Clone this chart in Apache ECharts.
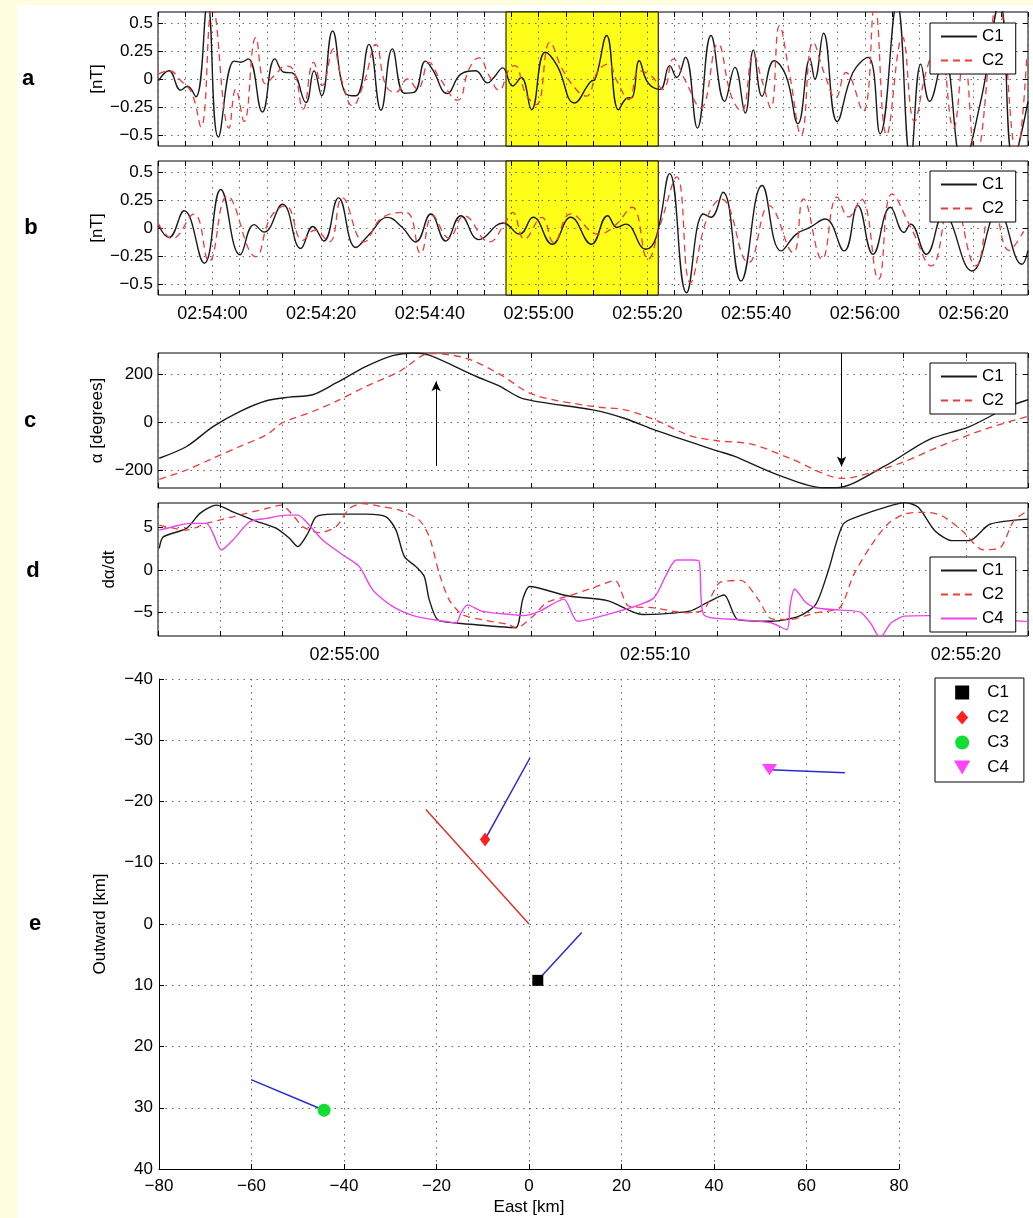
<!DOCTYPE html>
<html><head><meta charset="utf-8">
<script src="https://cdn.jsdelivr.net/npm/echarts@6/dist/echarts.min.js"></script>
<style>html,body{margin:0;padding:0;background:#fff}#c{width:1033px;height:1218px}</style>
</head><body><div id="c"></div>
<script>
// ---------- DATA ----------
// Panels a, b: time in seconds after 02:54:00, values in nT
const aC1 = [[-9.9,-0.015],[-8.0,0.074],[-5.8,-0.10],[-4.6,-0.065],[-3.05,-0.16],[-0.9,0.68],[1.1,-0.52],[4.0,0.16],[5.2,0.15],[6.6,0.18],[9.2,-0.295],[11.5,0.18],[13.2,0.06],[14.7,0.055],[17.2,-0.21],[18.7,0.074],[20.1,-0.15],[22.1,0.43],[24.5,-0.13],[26.4,-0.15],[28.8,0.31],[31.0,-0.28],[33.1,0.27],[35.3,-0.127],[37.1,-0.12],[39.2,0.16],[40.5,0.083],[43.2,-0.13],[45.7,0.044],[48.4,0.074],[50.6,-0.035],[51.8,0.015],[53.4,0.10],[55.2,-0.063],[56.8,0.013],[58.7,-0.275],[61.2,0.24],[63.4,0.12],[66.6,-0.215],[69.7,-0.018],[70.3,-0.01],[72.5,0.39],[74.7,-0.275],[76.3,-0.17],[77.2,-0.165],[78.5,0.164],[80.1,-0.033],[82.3,-0.093],[84.1,0.12],[85.4,0.013],[87.0,0.195],[89.2,-0.44],[91.7,0.39],[94.2,-0.2],[96.1,0.104],[98.0,-0.305],[99.5,0.26],[101.1,-0.154],[103.3,0.164],[105.5,0.028],[107.7,-0.4],[109.9,0.18],[110.8,0.0],[112.4,0.41],[114.9,-0.38],[117.8,0.058],[120.6,0.194],[122.8,-0.49],[125.9,0.68],[128.4,-0.72],[130.3,0.133],[131.9,-0.2],[134.5,0.2],[138.0,-0.75],[141.3,-0.2],[144.8,0.68],[147.3,-0.72],[150,-0.2]];
const aC2 = [[-9.93,0.044],[-7.96,0.074],[-5.8,-0.015],[-3.8,-0.124],[-2.1,-0.43],[0,0.66],[3.07,-0.44],[4.3,-0.09],[5.83,-0.38],[7.98,0.37],[9.8,-0.044],[11.66,0.044],[13.5,0.118],[15.0,0.074],[16.7,-0.27],[18.6,0.148],[20.2,-0.06],[22.25,0.27],[23.9,-0.03],[25.75,-0.24],[27.9,-0.03],[30.05,0.31],[31.9,-0.06],[33.7,-0.12],[35.9,0.0],[37.7,-0.09],[39.9,0.148],[41.7,0.015],[45.1,-0.19],[47.2,0.089],[49.0,0.19],[50.9,0.03],[52.7,-0.1],[54.6,0.089],[55.6,0.12],[57.7,-0.14],[59.6,-0.23],[62.1,0.33],[64.35,0.089],[67.2,-0.11],[68.75,-0.154],[70.95,0.073],[72.8,0.134],[74.4,-0.018],[76.6,-0.184],[78.5,0.073],[80.7,0.028],[82.9,-0.093],[84.8,0.18],[87.0,-0.018],[89.8,-0.26],[92.95,0.315],[95.45,-0.154],[97.3,-0.29],[99.5,0.22],[101.1,-0.018],[102.7,-0.26],[104.3,0.48],[106.1,0.058],[108.3,-0.5],[110.5,0.33],[112.7,0.028],[114.6,-0.17],[116.5,0.058],[119.65,-0.29],[121.8,0.66],[124.0,-0.5],[126.9,0.376],[129.1,-0.38],[131.3,0.073],[133.5,0.35],[136.3,-0.44],[138.2,0.2],[140.4,-0.7],[144.5,0.7],[147.9,-0.66],[149.8,0.22]];
const bC1 = [[-9.9,0.022],[-8.0,-0.086],[-5.2,0.154],[-1.5,-0.315],[1.54,0.345],[5.1,-0.24],[7.67,0.03],[9.5,-0.037],[12.9,0.213],[16.25,-0.183],[18.5,0.013],[20.5,-0.116],[23.2,0.27],[26.4,-0.174],[28.8,-0.06],[32.2,0.095],[34.9,0.007],[37.4,-0.125],[40.2,0.125],[42.9,-0.116],[45.7,0.11],[49.0,-0.104],[53.5,0.045],[56.5,-0.055],[59.0,0.096],[62.5,-0.145],[65.9,0.096],[69.7,-0.145],[72.7,0.11],[74.4,0.005],[76.0,0.035],[79.7,-0.19],[81.6,-0.085],[84.1,0.487],[87.2,-0.58],[90.3,0.126],[91.7,0.096],[93.9,0.32],[97.2,-0.475],[101.1,0.38],[104.6,-0.205],[107.4,-0.055],[109.9,0.005],[112.7,0.08],[116.2,-0.205],[118.7,0.2],[121.5,-0.235],[124.7,0.186],[127.2,-0.04],[128.4,0.035],[131.3,-0.235],[134.5,0.12],[139.7,-0.385],[144.5,0.15],[148.9,-0.325],[150,-0.2]];
const bC2 = [[-9.9,0.037],[-7.4,-0.095],[-3.4,0.125],[-0.6,-0.3],[2.76,0.286],[7.98,-0.257],[10.7,0.095],[13.5,0.198],[16.6,-0.11],[18.8,-0.02],[21.5,-0.125],[23.9,0.27],[27.9,-0.125],[31.3,0.095],[35.6,0.14],[38.3,-0.227],[40.5,0.11],[43.5,-0.09],[46.3,0.11],[50.9,-0.125],[54.0,0.06],[55.2,0.14],[57.4,-0.1],[60.6,0.096],[62.8,-0.13],[65.9,0.126],[71.0,-0.055],[74.0,0.02],[77.2,0.186],[80.1,-0.28],[82.5,0.05],[85.4,0.457],[87.9,-0.49],[91.05,0.1],[93.6,0.26],[98.6,-0.31],[102.4,0.2],[106.8,-0.22],[108.7,0.26],[112.1,-0.28],[114.9,0.276],[117.0,0.1],[119.3,0.26],[122.5,-0.46],[125.0,0.306],[128.5,0.0],[132.2,-0.34],[136.0,0.3],[140.4,-0.34],[143.5,0.25],[146.5,-0.2],[149.2,-0.03]];
// highlighted interval (seconds after 02:54:00)
const highlight = [54, 82];

// Panels c, d: time in seconds after 02:55:00
const cC1 = [[-5.96,-149],[-5.08,-100],[-4.23,-17],[-3.37,46],[-2.51,91],[-1.77,106],[-1.02,116],[-0.27,165],[0.7,234],[1.55,279],[2.2,290],[2.73,281],[4.23,193],[4.98,153],[5.74,100],[7.99,53],[9.03,17],[10.02,-33],[12.0,-118],[12.54,-140],[13.97,-219],[15.4,-272],[15.83,-272],[17.37,-183],[18.8,-72],[20.1,-18],[21.4,67],[22,95]];
const cC2 = [[-5.96,-237],[-5.08,-198],[-4.23,-149],[-3.37,-100],[-2.51,-51],[-1.98,0],[-1.02,46],[-0.27,88],[0.7,151],[1.77,213],[2.75,288],[3.9,269],[4.98,203],[6.07,117],[7.99,67],[9.03,53],[10.02,10],[11.1,-54],[12.0,-76],[13.1,-90],[14.3,-147],[16.05,-233],[16.5,-225],[17.9,-169],[19.2,-97],[20.65,-26],[22,26]];
// arrows: [time, from, to]
const arrowsC = [[2.95,-181,172],[16.0,290,-183]];

const dC1 = [[-5.96,2.55],[-5.83,3.9],[-5.08,4.9],[-4.65,6.67],[-4.12,7.65],[-3.59,6.86],[-2.94,5.88],[-2.19,4.9],[-1.77,3.73],[-1.5,2.75],[-1.18,4.3],[-0.91,6.27],[-0.37,6.59],[0.7,6.59],[1.34,6.27],[1.66,4.7],[1.93,1.57],[2.3,0.39],[2.57,-0.78],[2.73,-3.53],[3.0,-5.88],[3.59,-6.27],[4.23,-6.47],[4.98,-6.7],[5.52,-6.8],[5.74,-3.45],[5.96,-1.96],[7.17,-3.05],[8.49,-3.65],[9.58,-5.26],[11.12,-4.86],[11.67,-3.85],[12.22,-2.96],[12.66,-5.86],[13.75,-6.06],[14.63,-5.46],[15.17,-4.06],[15.56,-0.24],[16.05,5.39],[16.6,6.4],[17.48,7.48],[18.03,7.95],[18.47,7.4],[19.01,4.59],[19.56,3.46],[20.11,3.46],[20.77,5.39],[22,6.0]];
const dC2 = [[-5.96,5.29],[-5.08,4.7],[-4.44,5.49],[-3.59,6.27],[-2.51,7.25],[-2.03,7.65],[-1.66,6.47],[-1.34,5.1],[-0.8,4.4],[-0.27,5.1],[0.16,7.25],[0.59,7.84],[1.23,7.45],[1.77,7.06],[2.41,5.88],[2.73,3.92],[3.05,-0.39],[3.37,-3.53],[3.8,-5.29],[4.44,-5.88],[5.3,-6.47],[5.52,-6.87],[6.07,-5.46],[6.51,-3.85],[7.17,-3.13],[8.05,-2.05],[8.71,-1.24],[9.14,-4.26],[9.91,-4.46],[11.0,-5.06],[11.56,-4.7],[12.1,-1.44],[12.76,-1.24],[13.31,-3.45],[13.75,-5.78],[14.3,-5.86],[15.17,-5.06],[15.94,-4.46],[16.38,-0.64],[16.93,2.78],[17.48,5.39],[18.03,6.6],[18.69,6.8],[19.23,6.4],[19.89,4.59],[20.55,2.38],[21.1,2.6],[21.54,5.8],[22,7.0]];
const dC4 = [[-5.96,4.7],[-5.51,5.1],[-4.98,5.49],[-4.44,5.49],[-4.23,4.31],[-3.96,2.35],[-3.59,3.53],[-3.05,5.69],[-2.51,6.08],[-1.87,6.47],[-1.5,6.47],[-1.23,5.69],[-0.7,3.53],[-0.05,1.76],[0.48,0.39],[0.91,-2.35],[1.55,-4.31],[2.3,-5.49],[3.26,-6.08],[3.59,-6.27],[3.75,-5.1],[3.96,-4.12],[4.44,-4.9],[5.46,-5.3],[5.74,-5.4],[6.29,-4.86],[7.06,-3.45],[7.5,-6.06],[8.27,-5.46],[9.91,-3.45],[10.35,-0.64],[10.68,1.18],[11.23,1.18],[11.42,1.0],[11.56,-5.26],[12.66,-5.86],[13.75,-6.26],[14.24,-7.06],[14.35,-4.0],[14.49,-2.25],[14.85,-3.85],[15.17,-4.46],[15.94,-4.74],[16.6,-4.98],[16.93,-6.26],[17.24,-8.0],[17.59,-6.26],[18.03,-5.46],[18.8,-5.4],[20.0,-5.6],[22,-6.1]];

// Panel e: East [km], Outward [km]
const posC1 = [1.9, 9.2],   endC1 = [11.4, 1.4];
const posC2 = [-9.5, -13.8], endC2 = [0.2, -27.1];
const posC3 = [-44.3, 30.4], endC3 = [-60.1, 25.4];
const posC4 = [52.0, -25.2], endC4 = [68.3, -24.7];
const redLine = [[0, 0], [-22.3, -18.7]];

// Ticks
const AB_TICKS = [-10,-5,0,5,10,15,20,25,30,35,40,45,50,55,60,65,70,75,80,85,90,95,100,105,110,115,120,125,130,135,140,145,150];
const AB_LABELS = [0,20,40,60,80,100,120,140];
const CD_TICKS = [-6,-4,-2,0,2,4,6,8,10,12,14,16,18,20,22];
const CD_LABELS = [0,10,20];
const AB_Y = [-0.5,-0.25,0,0.25,0.5];
const C_Y = [-200,0,200];
const D_Y = [-5,0,5];
const E_X = [-80,-60,-40,-20,0,20,40,60,80];
const E_Y = [-40,-30,-20,-10,0,10,20,30,40];
const BASE_AB = 2*3600+54*60; // 02:54:00
const BASE_CD = 2*3600+55*60; // 02:55:00

// ---------- CHART ----------
const FONT = 'Liberation Sans, Arial, Helvetica, sans-serif';
const GRID_LINE = {show:true, lineStyle:{color:'#666', type:[1.5,5], width:1}};
function pad(n){return (n<10?'0':'')+n;}
function hms(s){s=Math.round(s);return pad(Math.floor(s/3600))+':'+pad(Math.floor(s%3600/60))+':'+pad(s%60);}
const minus = v => String(v).replace('-', '\u2212');
const tick = vals => ({show:true, inside:true, length:5, customValues:vals, lineStyle:{color:'#000', width:1}});
const lbl = (extra) => Object.assign({fontSize:17, fontFamily:FONT, color:'#000'}, extra);
const NAME_STYLE = {fontSize:17, fontFamily:FONT, color:'#000'};

function xPair(gi, min, max, ticks, labels, base, showLabels) {
  return [
    {type:'value', gridIndex:gi, min, max, z:2, position:'bottom',
     axisLine:{show:false, onZero:false}, axisTick:tick(ticks), splitLine:GRID_LINE,
     axisLabel:lbl({show:showLabels, customValues:labels, margin:10, fontSize:18, formatter:v=>hms(base+v)})},
    {type:'value', gridIndex:gi, min, max, z:2, position:'top',
     axisLine:{show:false, onZero:false}, axisTick:tick(ticks), splitLine:{show:false}, axisLabel:{show:false}}
  ];
}
function yPair(gi, min, max, ticks, name, gap) {
  return [
    {type:'value', gridIndex:gi, min, max, z:2, position:'left',
     axisLine:{show:false, onZero:false}, axisTick:tick(ticks), splitLine:GRID_LINE,
     axisLabel:lbl({customValues:ticks, margin:5, formatter:minus}),
     name, nameLocation:'middle', nameRotate:90, nameGap:gap, nameMoveOverlap:false, nameTextStyle:NAME_STYLE},
    {type:'value', gridIndex:gi, min, max, z:2, position:'right',
     axisLine:{show:false, onZero:false}, axisTick:tick(ticks), splitLine:{show:false}, axisLabel:{show:false}}
  ];
}

const BLACK = '#1a1a1a', RED = '#ee3a3a', MAG = '#ee44ee', BLUE = '#2a2ad0';
function ln(name, data, gi, color, dashed, smooth, extra) {
  return Object.assign({
    type:'line', name, data, xAxisIndex:gi*2, yAxisIndex:gi*2, symbol:'none', smooth,
    lineStyle:{color, width: dashed ? 1.3 : 1.4, type: dashed ? [7,5] : 'solid'},
    itemStyle:{color}, z:3, silent:true
  }, extra||{});
}
const hlArea = {silent:true, itemStyle:{color:'#ffff1a', borderColor:'#000', borderWidth:1},
  data:[[{xAxis:highlight[0]},{xAxis:highlight[1]}]]};

const SQ = 'path://M0,0H10V10H0Z';
const DIA = 'path://M6,0L12,7L6,14L0,7Z';
const TRI = 'path://M0,0H14L7,12Z';

const legendBase = {orient:'vertical', borderColor:'#000', borderWidth:1, backgroundColor:'#fff',
  itemWidth:36, itemHeight:12, itemGap:7, padding:[5,12,5,10], borderRadius:0,
  itemStyle:{opacity:0},
  formatter: n => n.split(':')[1], textStyle:{fontSize:17, fontFamily:FONT, color:'#000'}, selectedMode:false};

function marker(name, pos, symbol, size, color) {
  return {type:'scatter', name, data:[pos], xAxisIndex:8, yAxisIndex:8, symbol, symbolSize:size,
    symbolKeepAspect:true, itemStyle:{color, opacity:1}, z:4, silent:true};
}
function vec(name, a, b, color) {
  return {type:'line', name, data:[a,b], xAxisIndex:8, yAxisIndex:8, symbol:'none',
    lineStyle:{color, width:1.5}, z:3, silent:true};
}

const series = [
  ln('a:C1', aC1, 0, BLACK, false, 0.45, {markArea:hlArea}),
  ln('a:C2', aC2, 0, RED, true, 0.45),
  ln('b:C1', bC1, 1, BLACK, false, 0.45, {markArea:hlArea}),
  ln('b:C2', bC2, 1, RED, true, 0.45),
  ln('c:C1', cC1, 2, BLACK, false, 0.3, {markLine:{silent:true, symbol:['none','arrow'], symbolSize:[7,10],
      lineStyle:{color:'#000', width:1, type:'solid'}, label:{show:false},
      data: arrowsC.map(a => [{coord:[a[0],a[1]]},{coord:[a[0],a[2]]}])}}),
  ln('c:C2', cC2, 2, RED, true, 0.3),
  ln('d:C1', dC1, 3, BLACK, false, 0.25),
  ln('d:C2', dC2, 3, RED, true, 0.25),
  ln('d:C4', dC4, 3, MAG, false, 0.25),
  vec('e:v1', posC1, endC1, BLUE),
  vec('e:v2', posC2, endC2, BLUE),
  vec('e:v3', posC3, endC3, BLUE),
  vec('e:v4', posC4, endC4, BLUE),
  vec('e:red', redLine[0], redLine[1], '#e03030'),
  marker('e:C1', posC1, SQ, 11, '#000'),
  marker('e:C2', posC2, DIA, [12,14], '#ff2020'),
  marker('e:C3', posC3, 'circle', 13, '#11dd33'),
  marker('e:C4', posC4, TRI, [15,13], '#ff44ff')
];

const texts = [['a',28,79],['b',31,228],['c',30,421],['d',33,571],['e',35,924]].map(t => ({
  type:'text', x:t[1], y:t[2], silent:true,
  style:{text:t[0], font:'bold 22px '+FONT, fill:'#000', align:'center', verticalAlign:'middle'}
}));

const option = {
  animation:false,
  backgroundColor:'#fff',
  graphic:[
    {type:'rect', x:0, y:0, shape:{width:17, height:1218}, style:{fill:'#fffde0'}, silent:true, z:-10},
    {type:'rect', x:0, y:0, shape:{width:1033, height:5}, style:{fill:'#fffde0'}, silent:true, z:-10},
    ...texts
  ],
  grid:[
    {left:158, top:12, width:870, height:134, show:true, borderColor:'#000', borderWidth:1, backgroundColor:'#fff'},
    {left:158, top:161, width:870, height:134, show:true, borderColor:'#000', borderWidth:1, backgroundColor:'#fff'},
    {left:158, top:353, width:870, height:135, show:true, borderColor:'#000', borderWidth:1, backgroundColor:'#fff'},
    {left:158, top:503, width:870, height:133, show:true, borderColor:'#000', borderWidth:1, backgroundColor:'#fff'},
    {left:159, top:679, width:740, height:490, show:false}
  ],
  xAxis:[
    ...xPair(0,-10,150,AB_TICKS,AB_LABELS,BASE_AB,false),
    ...xPair(1,-10,150,AB_TICKS,AB_LABELS,BASE_AB,true),
    ...xPair(2,-6,22,CD_TICKS,CD_LABELS,BASE_CD,false),
    ...xPair(3,-6,22,CD_TICKS,CD_LABELS,BASE_CD,true),
    {type:'value', gridIndex:4, min:-80, max:80, position:'bottom',
     axisLine:{show:true, onZero:false, lineStyle:{color:'#000'}}, axisTick:tick(E_X), splitLine:GRID_LINE,
     axisLabel:lbl({customValues:E_X, margin:9, formatter:minus}),
     name:'East [km]', nameLocation:'middle', nameGap:30, nameMoveOverlap:false, nameTextStyle:NAME_STYLE}
  ],
  yAxis:[
    ...yPair(0,-0.6,0.6,AB_Y,'[nT]',52),
    ...yPair(1,-0.6,0.6,AB_Y,'[nT]',52),
    ...yPair(2,-273,290,C_Y,'\u03b1 [degrees]',52),
    ...yPair(3,-7.8,7.9,D_Y,'d\u03b1/dt',40),
    {type:'value', gridIndex:4, min:-40, max:40, inverse:true, position:'left',
     axisLine:{show:true, onZero:false, lineStyle:{color:'#000'}}, axisTick:tick(E_Y), splitLine:GRID_LINE,
     axisLabel:lbl({customValues:E_Y, margin:6, formatter:minus}),
     name:'Outward [km]', nameLocation:'middle', nameRotate:90, nameGap:50, nameMoveOverlap:false, nameTextStyle:NAME_STYLE}
  ],
  legend:[
    Object.assign({}, legendBase, {left:930, top:23, data:['a:C1','a:C2']}),
    Object.assign({}, legendBase, {left:930, top:171, data:['b:C1','b:C2']}),
    Object.assign({}, legendBase, {left:930, top:363, data:['c:C1','c:C2']}),
    Object.assign({}, legendBase, {left:930, top:557, data:['d:C1','d:C2','d:C4']}),
    Object.assign({}, legendBase, {left:935, top:678, itemWidth:40, itemHeight:14, itemGap:8, padding:[6,15,6,19],
      itemStyle:{opacity:1}, data:['e:C1','e:C2','e:C3','e:C4']})
  ],
  series
};
const chart = echarts.init(document.getElementById('c'), null, {renderer:'canvas'});
chart.setOption(option);
</script>
</body></html>
